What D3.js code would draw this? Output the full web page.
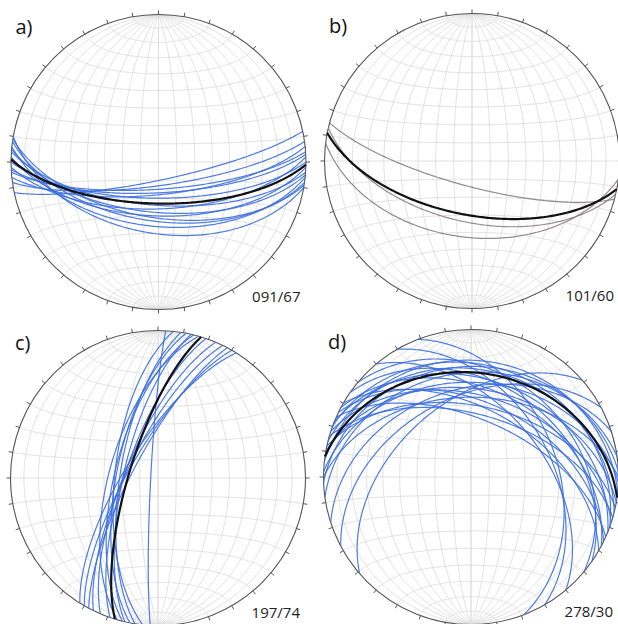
<!DOCTYPE html>
<html>
<head>
<meta charset="utf-8">
<script src="https://cdn.jsdelivr.net/npm/d3@7"></script>
<style>
  body { margin: 0; background: #fff; }
  svg { display: block; }
</style>
</head>
<body>
<div id="chart"></div>
<script>
// planes are strike/dip, right-hand rule, lower hemisphere equal-area net
const panelLabels = ["a)", "b)", "c)", "d)"];
const meanLabels = ["091/67", "101/60", "197/74", "278/30"];
const meanStrikes = [91, 101, 197, 278];
const meanDips = [67, 60, 74, 30];

const strikesA = [78, 82, 86, 84, 90, 88, 95, 92, 98, 96, 100, 94, 99, 87];
const dipsA    = [80, 77, 75, 72, 70, 64, 62, 60, 57, 54, 50, 66, 59, 73];

const strikesB = [105, 103, 97];
const dipsB    = [76, 56, 47];

const strikesC = [183, 186, 189, 191, 193, 194, 196, 199, 203, 206, 208, 210, 212];
const dipsC    = [86, 66, 69, 67, 71, 66, 63, 72, 72, 73, 76, 74, 72];

const strikesD = [262, 268, 272, 276, 280, 284, 288, 292, 296, 300, 270, 282, 290, 298, 305, 286, 294, 339, 330, 320, 229, 242, 252, 310];
const dipsD    = [30, 26, 36, 22, 40, 28, 44, 34, 48, 52, 45, 50, 25, 40, 36, 55, 58, 41, 45, 50, 48, 45, 40, 30];

const panels = [
  { cx: 158.5, cy: 162, strikes: strikesA, dips: dipsA, color: "#3b6ee0" },
  { cx: 472,   cy: 161, strikes: strikesB, dips: dipsB, color: "#8c7c80" },
  { cx: 158,   cy: 478, strikes: strikesC, dips: dipsC, color: "#3b6ee0" },
  { cx: 471,   cy: 477, strikes: strikesD, dips: dipsD, color: "#3b6ee0" }
];

const W = 618, H = 624, R = 147.5;
const rad = Math.PI / 180;

const svg = d3.select("#chart").append("svg")
    .attr("width", W)
    .attr("height", H);

// trend/plunge -> lon/lat, down direction is the north pole of the projection
const toGeo = (trend, plunge) => [180 - trend, plunge];

function planeLine(strike, dip) {
  const s = strike * rad, d = dip * rad, dd = s + Math.PI / 2;
  const pts = d3.range(0, 180.5, 1).map(t => {
    const tr = t * rad;
    const x = Math.cos(tr) * Math.sin(s) + Math.sin(tr) * Math.cos(d) * Math.sin(dd);
    const y = Math.cos(tr) * Math.cos(s) + Math.sin(tr) * Math.cos(d) * Math.cos(dd);
    const z = -Math.sin(tr) * Math.sin(d);
    return toGeo(Math.atan2(x, y) / rad, Math.asin(Math.max(-1, Math.min(1, -z))) / rad);
  });
  return { type: "LineString", coordinates: pts };
}

panels.forEach((p, i) => {
  const proj = d3.geoAzimuthalEqualArea()
      .rotate([0, -90])
      .scale(R / Math.SQRT2)
      .translate([p.cx, p.cy])
      .clipAngle(90.02)
      .precision(0.1);
  const path = d3.geoPath(proj);
  const g = svg.append("g");

  // grid: meridians (N-S striking planes) and small circles about N-S axis
  const grid = g.append("g")
      .attr("fill", "none")
      .attr("stroke", "#d9d9d9")
      .attr("stroke-width", 0.8);
  d3.range(10, 91, 10).forEach(k => {
    grid.append("path").attr("d", path(planeLine(0, k)));
    grid.append("path").attr("d", path(planeLine(180, k)));
  });
  const circ = d3.geoCircle().center(toGeo(0, 0)).precision(1);
  d3.range(10, 171, 10).forEach(k => {
    const c = circ.radius(k)();
    grid.append("path").attr("d", path({ type: "LineString", coordinates: c.coordinates[0] }));
  });

  // primitive and ticks
  const c0 = proj(toGeo(0, 0));
  g.append("circle")
      .attr("cx", p.cx).attr("cy", p.cy)
      .attr("r", Math.hypot(c0[0] - p.cx, c0[1] - p.cy))
      .attr("fill", "none")
      .attr("stroke", "#555")
      .attr("stroke-width", 1.1);
  g.append("g").selectAll("line")
    .data(d3.range(0, 360, 10))
    .enter().append("line")
      .each(function(az) {
        const q = proj(toGeo(az, 0));
        const ux = (q[0] - p.cx) / R, uy = (q[1] - p.cy) / R;
        d3.select(this)
          .attr("x1", q[0]).attr("y1", q[1])
          .attr("x2", q[0] + ux * 4).attr("y2", q[1] + uy * 4);
      })
      .attr("stroke", "#555")
      .attr("stroke-width", 1);

  // individual planes
  g.append("g")
    .selectAll("path")
    .data(p.strikes.map((s, j) => [s, p.dips[j]]))
    .enter().append("path")
      .attr("d", d => path(planeLine(d[0], d[1])))
      .attr("fill", "none")
      .attr("stroke", p.color)
      .attr("stroke-opacity", 0.9)
      .attr("stroke-width", 1.2);

  // mean plane
  g.append("path")
      .attr("d", path(planeLine(meanStrikes[i], meanDips[i])))
      .attr("fill", "none")
      .attr("stroke", "#111")
      .attr("stroke-width", 2.2);

  g.append("text")
      .attr("x", p.cx - 143)
      .attr("y", p.cy - 128)
      .attr("font-family", "'Open Sans', sans-serif")
      .attr("font-size", 20)
      .attr("fill", "#111")
      .text(panelLabels[i]);

  g.append("text")
      .attr("x", Math.min(p.cx + 142, W - 2))
      .attr("y", p.cy + 140)
      .attr("text-anchor", "end")
      .attr("font-family", "'Open Sans', sans-serif")
      .attr("font-size", 15)
      .attr("fill", "#222")
      .text(meanLabels[i]);
});
</script>
</body>
</html>
